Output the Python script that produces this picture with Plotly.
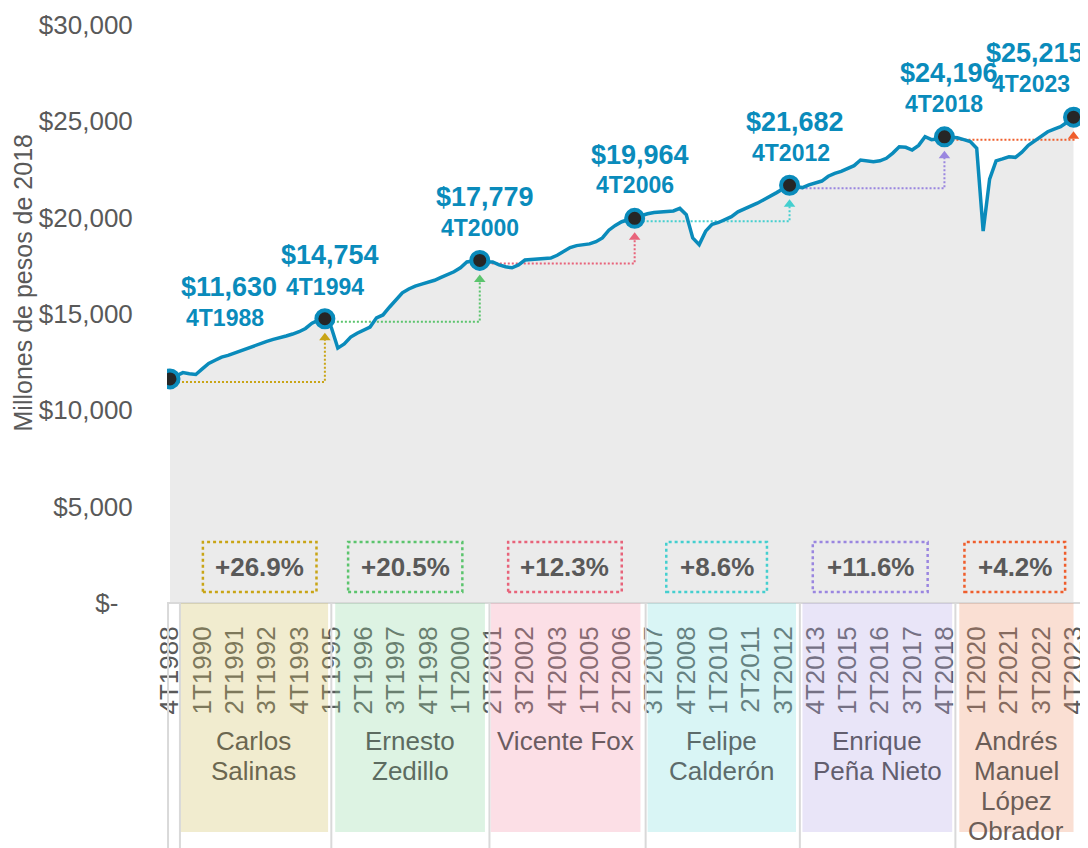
import plotly.graph_objects as go

# Quarterly GDP, millions of 2018 pesos, 4T1988 .. 4T2023
QUARTERS = [f"{q}T{y}" for y in range(1988, 2024) for q in range(1, 5)][3:]
GDP = [
    11630, 11780, 11960, 11900, 11860, 12150, 12430, 12600, 12760, 12850,
    12970, 13130, 13250, 13350, 13480, 13580, 13680, 13790, 13860, 13960,
    14080, 14250, 14520, 14680, 14754, 14300, 13230, 13450, 13800, 14000,
    14150, 14320, 14800, 14950, 15350, 15750, 16100, 16300, 16450, 16550,
    16650, 16750, 16900, 17050, 17190, 17400, 17700, 17750, 17779, 17700,
    17700, 17550, 17450, 17400, 17550, 17800, 17830, 17850, 17880, 17900,
    18050, 18230, 18450, 18550, 18600, 18640, 18750, 18950, 19350, 19600,
    19790, 19900, 19964, 20100, 20200, 20270, 20300, 20320, 20350, 20480,
    20150, 18950, 18600, 19300, 19650, 19750, 19880, 20050, 20300, 20450,
    20570, 20750, 20930, 21100, 21300, 21500, 21682, 21600, 21560, 21700,
    21820, 21900, 22150, 22300, 22400, 22550, 22700, 22990, 22950, 22900,
    22950, 23080, 23350, 23680, 23650, 23510, 23750, 24200, 24050, 24100,
    24196, 24180, 24150, 24050, 23950, 23600, 19300, 22000, 22950, 23050,
    23160, 23130, 23400, 23750, 24000, 24250, 24460, 24600, 24720, 24950,
    25215,
]
HIGHLIGHTS = ["4T1988", "4T1994", "4T2000", "4T2006", "4T2012", "4T2018", "4T2023"]
PRESIDENTS = [
    "Carlos<br>Salinas", "Ernesto<br>Zedillo", "Vicente Fox",
    "Felipe<br>Calderón", "Enrique<br>Peña Nieto", "Andrés<br>Manuel<br>López<br>Obrador",
]
Y_TICKS = [0, 5000, 10000, 15000, 20000, 25000, 30000]
X_TICKS = QUARTERS[::5]

# styling / placement
FONT = "Liberation Sans, Arial, sans-serif"
BLUE = "#0A8BBB"
GREY_TXT = "#595959"
TERM_COLORS = ["#C9A516", "#5BC46D", "#E8637A", "#44CFCF", "#9A86E0", "#EF5E2C"]
BAND_FILLS = [
    "rgba(208,192,95,0.3)", "rgba(142,215,162,0.3)", "rgba(245,148,172,0.3)",
    "rgba(128,222,222,0.3)", "rgba(182,168,232,0.3)", "rgba(238,148,108,0.3)",
]
NAME_COLORS = ["#6B6750", "#5C6B60", "#6B5C61", "#5C6B6B", "#625E6E", "#6B5D57"]
BAND_EDGES = [(1.5, 24.5), (25.6, 48.8), (49.7, 72.9), (74.0, 97.0), (98.0, 121.2), (122.3, 140.0)]
BOX_EDGES = [(5.1, 22.7), (27.6, 45.3), (52.4, 70.0), (76.9, 92.5), (99.6, 117.4), (123.1, 138.7)]
SEPARATORS = [-0.3, 1.54, 25.0, 49.5, 73.7, 97.6, 121.7]
VALUE_SHIFT = [(59, 92), (5, 64), (5, 63), (5, 63), (5, 63), (5, 64), (-39, 64)]
PERIOD_SHIFT = [(55, 61), (0, 32), (0, 32), (0, 33), (1, 32), (0, 33), (-43, 33)]

Y_MIN, Y_MAX = -12716, 30778
PX = (Y_MAX - Y_MIN) / 838  # value units per pixel

hi_idx = [QUARTERS.index(q) for q in HIGHLIGHTS]
hi_val = [GDP[i] for i in hi_idx]

fig = go.Figure()

# grey area
fig.add_trace(go.Scatter(
    x=QUARTERS, y=GDP, mode="lines", line=dict(width=0),
    fill="tozeroy", fillcolor="#EBEBEB", hoverinfo="skip",
))

# dotted step arrows between highlighted quarters
for k in range(len(hi_idx) - 1):
    q0, q1 = HIGHLIGHTS[k], HIGHLIGHTS[k + 1]
    v0, v1 = hi_val[k], hi_val[k + 1]
    fig.add_trace(go.Scatter(
        x=[q0, q1, q1], y=[v0 - 3 * PX, v0 - 3 * PX, v1 - 19 * PX],
        mode="lines", line=dict(color=TERM_COLORS[k], width=2, dash="2px,2px"),
        hoverinfo="skip",
    ))
    fig.add_trace(go.Scatter(
        x=[q1], y=[v1 - 19 * PX], mode="markers",
        marker=dict(symbol="triangle-up", size=10, color=TERM_COLORS[k]),
        hoverinfo="skip",
    ))

# main line
fig.add_trace(go.Scatter(
    x=QUARTERS, y=GDP, mode="lines", line=dict(color=BLUE, width=3.5),
))
fig.add_trace(go.Scatter(
    x=HIGHLIGHTS, y=hi_val, mode="markers",
    marker=dict(size=17, color="#262626", line=dict(color=BLUE, width=4)),
))

shapes = []
annotations = []

for k, (q, v) in enumerate(zip(HIGHLIGHTS, hi_val)):
    annotations.append(dict(
        x=q, y=v, xref="x", yref="y", showarrow=False,
        text=f"<b>${v:,}</b>", font=dict(size=27, color=BLUE, family=FONT),
        xshift=VALUE_SHIFT[k][0], yshift=VALUE_SHIFT[k][1],
    ))
    annotations.append(dict(
        x=q, y=v, xref="x", yref="y", showarrow=False,
        text=f"<b>{q}</b>", font=dict(size=23, color=BLUE, family=FONT),
        xshift=PERIOD_SHIFT[k][0], yshift=PERIOD_SHIFT[k][1],
    ))

for k, name in enumerate(PRESIDENTS):
    b0, b1 = BAND_EDGES[k]
    shapes.append(dict(
        type="rect", xref="x", yref="y", x0=b0, x1=b1, y0=0, y1=-229 * PX,
        fillcolor=BAND_FILLS[k], line=dict(width=0), layer="above",
    ))
    # one annotation per text line, tight line spacing
    for j, part in enumerate(name.split("<br>")):
        annotations.append(dict(
            x=(b0 + b1) / 2, y=-(138 + 30 * j) * PX, xref="x", yref="y",
            showarrow=False, text=part,
            font=dict(size=26, color=NAME_COLORS[k], family=FONT),
        ))
    # growth over the term
    x0, x1 = BOX_EDGES[k]
    growth = (hi_val[k + 1] / hi_val[k] - 1) * 100
    shapes.append(dict(
        type="rect", xref="x", yref="y", x0=x0, x1=x1, y0=11 * PX, y1=61 * PX,
        line=dict(color=TERM_COLORS[k], width=2.5, dash="dot"), layer="above",
    ))
    annotations.append(dict(
        x=(x0 + x1) / 2, y=36 * PX, xref="x", yref="y", showarrow=False,
        text=f"<b>+{growth:.1f}%</b>", font=dict(size=26, color=GREY_TXT, family=FONT),
    ))

for sx in SEPARATORS:
    shapes.append(dict(
        type="line", xref="x", yref="y", x0=sx, x1=sx, y0=0, y1=Y_MIN,
        line=dict(color="#D9D9D9", width=2), layer="above",
    ))

annotations.append(dict(
    x=(23 - 167) / 921, y=(848 - 283) / 838, xref="paper", yref="paper",
    xanchor="center", yanchor="middle",
    showarrow=False, textangle=-90, text="Millones de pesos de 2018",
    font=dict(size=25, color=GREY_TXT, family=FONT),
))

# page body adds an 8px margin, so the figure is 8px smaller than the window
fig.update_layout(
    width=1080, height=840,
    margin=dict(l=159, r=0, t=2, b=0),
    plot_bgcolor="white", paper_bgcolor="white",
    showlegend=False,
    font=dict(family=FONT, color=GREY_TXT),
    shapes=shapes, annotations=annotations,
)
fig.update_xaxes(
    type="category", range=[-0.463, 141.78],
    tickvals=X_TICKS, ticktext=X_TICKS, tickangle=-90,
    tickfont=dict(size=26, color=GREY_TXT, family=FONT),
    showline=True, linecolor="#D9D9D9", linewidth=2,
    anchor="free", position=(848 - 603) / 838,
    ticks="outside", ticklen=12, tickcolor="rgba(0,0,0,0)",
    showgrid=False, zeroline=False,
)
fig.update_yaxes(
    range=[Y_MIN, Y_MAX], tickvals=Y_TICKS,
    ticktext=["$-\u00a0\u00a0"] + [f"${v:,}" for v in Y_TICKS[1:]],
    tickfont=dict(size=26, color=GREY_TXT, family=FONT),
    ticks="outside", ticklen=28, tickcolor="rgba(0,0,0,0)",
    showgrid=False, zeroline=False, showline=False,
)

fig.write_html("out.html")
